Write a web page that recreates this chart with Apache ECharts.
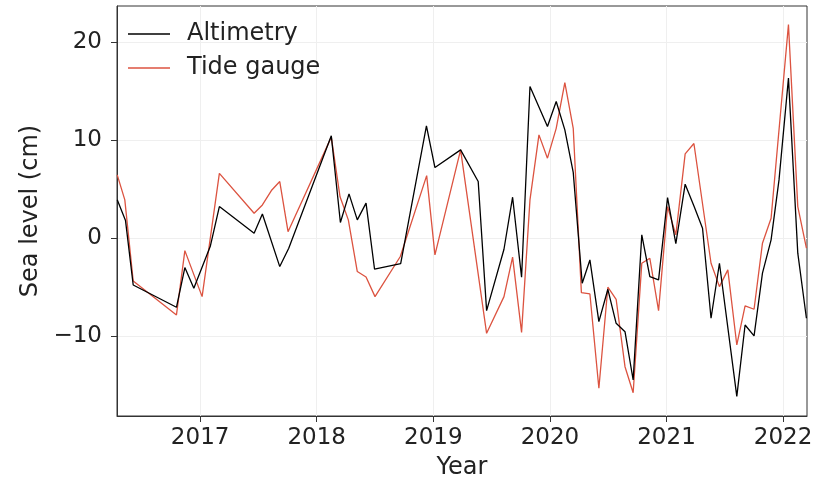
<!DOCTYPE html>
<html>
<head>
<meta charset="utf-8">
<script src="https://cdn.jsdelivr.net/npm/echarts@6/dist/echarts.min.js"></script>
<style>
  html, body { margin: 0; padding: 0; background: #fff; }
  #chart { width: 830px; height: 482px; }
</style>
</head>
<body>
<div id="chart"></div>
<script>
// Sampling times (decimal years) and sea level anomalies (cm)
const altYears = [
  2016.289, 2016.360, 2016.426, 2016.797, 2016.869, 2016.946, 2017.088, 2017.165,
  2017.463, 2017.534, 2017.683, 2017.760, 2018.125, 2018.203, 2018.277, 2018.348,
  2018.423, 2018.496, 2018.720, 2018.941, 2019.014, 2019.234, 2019.385, 2019.457,
  2019.606, 2019.680, 2019.757, 2019.829, 2019.979, 2020.054, 2020.128, 2020.200,
  2020.277, 2020.343, 2020.420, 2020.497, 2020.568, 2020.644, 2020.714, 2020.788,
  2020.857, 2020.932, 2021.009, 2021.080, 2021.160, 2021.237, 2021.309, 2021.382,
  2021.454, 2021.603, 2021.674, 2021.751, 2021.823, 2021.897, 2021.965, 2022.046,
  2022.126, 2022.200
];
const altLevel = [
  3.89, 1.77, -4.81, -7.09, -3.03, -5.15, -0.82, 3.2,
  0.48, 2.45, -2.93, -1.05, 10.43, 1.57, 4.5, 1.84,
  3.55, -3.2, -2.63, 11.45, 7.19, 9.0, 5.76, -7.43,
  -1.16, 4.16, -4.02, 15.47, 11.38, 13.94, 11.04, 6.7,
  -4.63, -2.25, -8.56, -5.25, -8.73, -9.58, -14.52, 0.31,
  -3.95, -4.29, 4.12, -0.59, 5.49, 3.2, 0.99, -8.21,
  -2.59, -16.2, -8.9, -10.02, -3.6, -0.2, 5.93, 16.33,
  -1.56, -8.21
];
const tideYears = [
  2016.289, 2016.354, 2016.426, 2016.797, 2016.869, 2017.017, 2017.165, 2017.463,
  2017.534, 2017.611, 2017.683, 2017.754, 2018.125, 2018.200, 2018.271, 2018.348,
  2018.423, 2018.500, 2018.717, 2018.943, 2019.014, 2019.234, 2019.457, 2019.606,
  2019.680, 2019.757, 2019.829, 2019.906, 2019.979, 2020.054, 2020.128, 2020.200,
  2020.270, 2020.343, 2020.420, 2020.497, 2020.568, 2020.644, 2020.714, 2020.788,
  2020.857, 2020.932, 2021.009, 2021.080, 2021.160, 2021.235, 2021.382, 2021.454,
  2021.526, 2021.603, 2021.674, 2021.751, 2021.823, 2021.897, 2022.046, 2022.126,
  2022.200
];
const tideLevel = [
  6.44, 3.89, -4.4, -7.87, -1.3, -6.0, 6.6, 2.52,
  3.37, 4.84, 5.76, 0.64, 10.3, 4.2, 1.84, -3.44,
  -4.0, -6.0, -1.9, 6.37, -1.74, 9.0, -9.75, -6.0,
  -1.97, -9.65, 3.89, 10.53, 8.15, 11.2, 15.88, 11.2,
  -5.59, -5.73, -15.37, -5.04, -6.27, -13.16, -15.82, -2.59,
  -2.08, -7.43, 3.2, 0.31, 8.59, 9.65, -2.59, -4.98,
  -3.27, -10.94, -6.95, -7.29, -0.54, 2.01, 21.8, 3.2,
  -1.05
];
const yearTicks = [2017, 2018, 2019, 2020, 2021, 2022];
const levelTicks = [-10, 0, 10, 20];

const pair = (xs, ys) => xs.map((x, i) => [x, ys[i]]);
const FONT = '"DejaVu Sans", sans-serif';
const INK = '#222';
const FRAME = '#333';

const chart = echarts.init(document.getElementById('chart'), null, { renderer: 'canvas' });
chart.setOption({
  animation: false,
  backgroundColor: '#fff',
  grid: {
    left: 117, right: 23, top: 6, bottom: 66,
    outerBoundsMode: 'none', containLabel: false,
    show: true, borderColor: FRAME, borderWidth: 1, backgroundColor: 'transparent'
  },
  legend: {
    orient: 'vertical',
    left: 123, top: 17,
    icon: 'rect',
    itemWidth: 42, itemHeight: 1.4, itemGap: 10,
    textStyle: { fontFamily: FONT, fontSize: 24, color: INK, lineHeight: 24, padding: [0, 0, 0, 12] },
    data: ['Altimetry', 'Tide gauge']
  },
  xAxis: {
    type: 'value',
    min: 2016.287, max: 2022.205,
    name: 'Year', nameLocation: 'middle', nameGap: 40,
    nameTextStyle: { fontFamily: FONT, fontSize: 24, color: INK },
    axisLine: { show: true, onZero: false, lineStyle: { color: FRAME, width: 1 } },
    axisTick: { show: true, length: 6, lineStyle: { color: FRAME }, customValues: yearTicks },
    axisLabel: { fontFamily: FONT, fontSize: 23, color: INK, margin: 11, customValues: yearTicks,
      formatter: v => String(Math.round(v)) },
    splitLine: { show: true, lineStyle: { color: '#efefef', width: 1 } }
  },
  yAxis: {
    type: 'value',
    min: -18.2, max: 23.7,
    name: 'Sea level (cm)', nameLocation: 'middle', nameGap: 72,
    nameTextStyle: { fontFamily: FONT, fontSize: 24, color: INK },
    axisLine: { show: true, onZero: false, lineStyle: { color: FRAME, width: 1 } },
    axisTick: { show: true, length: 6, lineStyle: { color: FRAME }, customValues: levelTicks },
    axisLabel: { fontFamily: FONT, fontSize: 23, color: INK, margin: 15, customValues: levelTicks,
      formatter: v => (v < 0 ? '\u2212' + Math.abs(Math.round(v)) : String(Math.round(v))) },
    splitLine: { show: true, lineStyle: { color: '#efefef', width: 1 } }
  },
  series: [
    {
      name: 'Altimetry', type: 'line', symbol: 'none',
      data: pair(altYears, altLevel),
      lineStyle: { color: '#000', width: 1.3 }, itemStyle: { color: '#000' },
      z: 3
    },
    {
      name: 'Tide gauge', type: 'line', symbol: 'none',
      data: pair(tideYears, tideLevel),
      lineStyle: { color: '#dc5340', width: 1.3 }, itemStyle: { color: '#dc5340' },
      z: 2
    }
  ]
});
</script>
</body>
</html>
